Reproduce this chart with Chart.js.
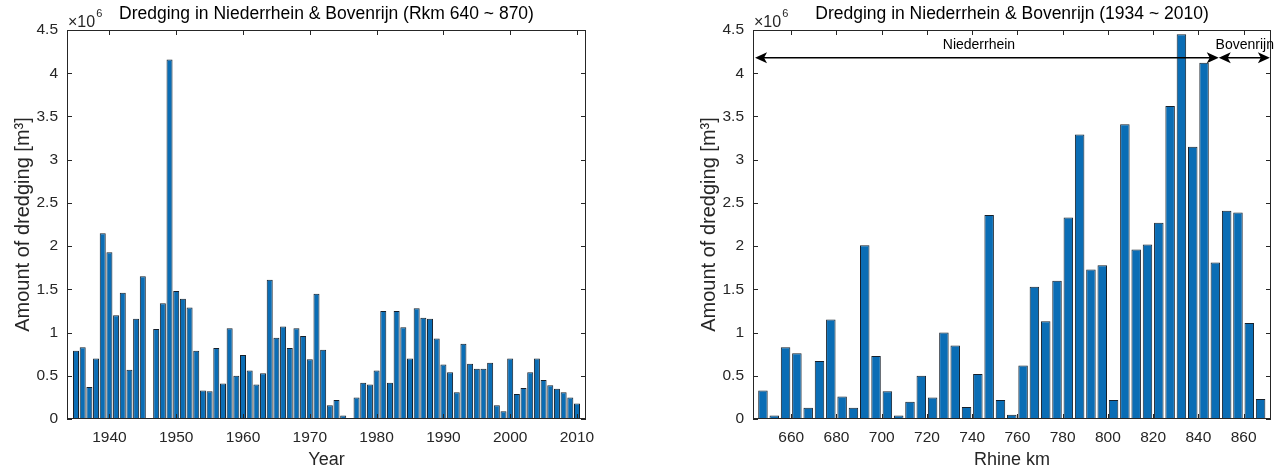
<!DOCTYPE html>
<html>
<head>
<meta charset="utf-8">
<script src="https://cdn.jsdelivr.net/npm/chart.js@4.4.0/dist/chart.umd.min.js"></script>
<style>
  html, body { margin: 0; padding: 0; background: #fff; }
  #wrap { position: relative; width: 1284px; height: 472px; }
  canvas { position: absolute; top: 0; }
  #chartYear { left: 0; }
  #chartKm { left: 642px; }
</style>
</head>
<body>
<div id="wrap">
  <canvas id="chartYear" width="642" height="472"></canvas>
  <canvas id="chartKm" width="642" height="472"></canvas>
</div>
<script>
// values are in million m3 (the axes show them with a x10^6 multiplier)
const years = [
  1935, 1936, 1937, 1938, 1939, 1940, 1941, 1942, 1943, 1944, 1945,
  1947, 1948, 1949, 1950, 1951, 1952, 1953, 1954, 1955, 1956, 1957, 1958, 1959,
  1960, 1961, 1962, 1963, 1964, 1965, 1966, 1967, 1968, 1969,
  1970, 1971, 1972, 1973, 1974, 1975,
  1977, 1978, 1979, 1980, 1981, 1982, 1983, 1984, 1985, 1986, 1987, 1988, 1989,
  1990, 1991, 1992, 1993, 1994, 1995, 1996, 1997, 1998, 1999,
  2000, 2001, 2002, 2003, 2004, 2005, 2006, 2007, 2008, 2009, 2010
];
const dredgingByYear = [
  0.79, 0.83, 0.37, 0.70, 2.15, 1.93, 1.20, 1.46, 0.57, 1.16, 1.65,
  1.04, 1.34, 4.16, 1.48, 1.39, 1.29, 0.79, 0.33, 0.32, 0.82, 0.41, 1.05, 0.50,
  0.74, 0.56, 0.40, 0.53, 1.61, 0.94, 1.07, 0.82, 1.05, 0.96,
  0.69, 1.45, 0.80, 0.16, 0.22, 0.04,
  0.25, 0.42, 0.40, 0.56, 1.25, 0.42, 1.25, 1.06, 0.70, 1.28, 1.17, 1.16, 0.93,
  0.63, 0.54, 0.31, 0.87, 0.64, 0.58, 0.58, 0.65, 0.16, 0.09,
  0.70, 0.29, 0.36, 0.54, 0.70, 0.45, 0.39, 0.35, 0.31, 0.25, 0.18
];

const rhineKm = [
  647.5, 652.5, 657.5, 662.5, 667.5, 672.5, 677.5, 682.5, 687.5, 692.5,
  697.5, 702.5, 707.5, 712.5, 717.5, 722.5, 727.5, 732.5, 737.5, 742.5,
  747.5, 752.5, 757.5, 762.5, 767.5, 772.5, 777.5, 782.5, 787.5, 792.5,
  797.5, 802.5, 807.5, 812.5, 817.5, 822.5, 827.5, 832.5, 837.5, 842.5,
  847.5, 852.5, 857.5, 862.5, 867.5
];
const dredgingByKm = [
  0.33, 0.04, 0.83, 0.76, 0.13, 0.67, 1.15, 0.26, 0.13, 2.01,
  0.73, 0.32, 0.04, 0.20, 0.50, 0.25, 1.00, 0.85, 0.14, 0.52,
  2.36, 0.22, 0.05, 0.62, 1.53, 1.13, 1.60, 2.33, 3.29, 1.73,
  1.78, 0.22, 3.41, 1.96, 2.02, 2.27, 3.62, 4.45, 3.15, 4.12,
  1.81, 2.41, 2.39, 1.11, 0.23
];

// river stretches marked with arrows on the km chart
const regionNames = ["Niederrhein", "Bovenrijn"];
const regionFrom = [644, 849];
const regionTo = [849, 871.6];
const regionLabelKm = [743, 860.5];
const arrowLevel = 4.18;
const labelLevel = 4.32;

const FONT = "'Liberation Sans', Arial, Helvetica, sans-serif";
const INK = "#262626";

// MATLAB style box, inward ticks, title and x10^6 marker
const matlabFrame = {
  id: "matlabFrame",
  afterDraw(chart, args, opts) {
    const { ctx, chartArea: a, scales } = chart;
    ctx.save();
    ctx.strokeStyle = INK;
    ctx.lineWidth = 1;
    ctx.strokeRect(a.left + 0.5, a.top + 0.5, a.right - a.left - 1, a.bottom - a.top - 1);
    ctx.beginPath();
    scales.x.ticks.forEach((t) => {
      const x = Math.round(scales.x.getPixelForValue(t.value)) + 0.5;
      ctx.moveTo(x, a.bottom);
      ctx.lineTo(x, a.bottom - 5);
      ctx.moveTo(x, a.top);
      ctx.lineTo(x, a.top + 5);
    });
    scales.y.ticks.forEach((t) => {
      const y = Math.round(scales.y.getPixelForValue(t.value)) + 0.5;
      ctx.moveTo(a.left, y);
      ctx.lineTo(a.left + 5, y);
      ctx.moveTo(a.right, y);
      ctx.lineTo(a.right - 5, y);
    });
    ctx.stroke();

    ctx.fillStyle = "#000";
    ctx.font = "17.5px " + FONT;
    ctx.textAlign = "center";
    ctx.textBaseline = "middle";
    ctx.fillText(opts.title, (a.left + a.right) / 2, 14);

    ctx.fillStyle = INK;
    ctx.textAlign = "left";
    ctx.textBaseline = "alphabetic";
    ctx.font = "16px " + FONT;
    const base = "\u00d710";
    ctx.fillText(base, a.left + 1, a.top - 3);
    const w = ctx.measureText(base).width;
    ctx.font = "11px " + FONT;
    ctx.fillText("6", a.left + 1 + w + 1, a.top - 13);
    ctx.restore();
  },
};

const arrowHead = (ctx, x, y, dir) => {
  ctx.beginPath();
  ctx.moveTo(x, y);
  ctx.lineTo(x - dir * 12, y - 5.5);
  ctx.lineTo(x - dir * 9, y);
  ctx.lineTo(x - dir * 12, y + 5.5);
  ctx.closePath();
  ctx.fill();
};

const regionArrows = {
  id: "regionArrows",
  afterDraw(chart) {
    const { ctx, scales } = chart;
    const y = scales.y.getPixelForValue(arrowLevel);
    const ly = scales.y.getPixelForValue(labelLevel);
    ctx.save();
    ctx.strokeStyle = "#000";
    ctx.fillStyle = "#000";
    ctx.lineWidth = 1.5;
    regionNames.forEach((name, i) => {
      const x1 = scales.x.getPixelForValue(regionFrom[i]);
      const x2 = scales.x.getPixelForValue(regionTo[i]);
      ctx.beginPath();
      ctx.moveTo(x1 + 6, y);
      ctx.lineTo(x2 - 6, y);
      ctx.stroke();
      arrowHead(ctx, x1, y, -1);
      arrowHead(ctx, x2, y, 1);
      ctx.font = "14px " + FONT;
      ctx.textAlign = "center";
      ctx.textBaseline = "middle";
      ctx.fillText(name, scales.x.getPixelForValue(regionLabelKm[i]), ly);
    });
    ctx.restore();
  },
};

const makeChart = (canvasId, xs, values, cfg) => {
  const ctx = document.getElementById(canvasId).getContext("2d");
  return new Chart(ctx, {
    type: "bar",
    data: {
      datasets: [
        {
          label: cfg.title,
          data: xs.map((x, i) => ({ x: x, y: values[i] })),
          backgroundColor: "#0a6db5",
          borderColor: "#16202b",
          borderWidth: 1,
          barPercentage: cfg.barPercentage,
          categoryPercentage: 1,
        },
      ],
    },
    options: {
      responsive: false,
      animation: false,
      layout: { padding: cfg.padding },
      plugins: {
        legend: { display: false },
        tooltip: { enabled: false },
        title: { display: false },
        matlabFrame: { title: cfg.title },
      },
      scales: {
        x: {
          type: "linear",
          offset: false,
          min: cfg.xMin,
          max: cfg.xMax,
          grid: { display: false, drawTicks: false, offset: false },
          border: { display: false },
          ticks: {
            stepSize: cfg.xStep,
            includeBounds: false,
            padding: 9,
            color: INK,
            font: { family: FONT, size: 15.5 },
            callback: (v) => String(v),
          },
          title: {
            display: true,
            text: cfg.xTitle,
            color: INK,
            font: { family: FONT, size: 18 },
            padding: { top: 0, bottom: 1 },
          },
          afterFit: (scale) => { scale.height = 53; },
        },
        y: {
          min: 0,
          max: 4.5,
          grid: { display: false, drawTicks: false },
          border: { display: false },
          ticks: {
            stepSize: 0.5,
            padding: 9,
            color: INK,
            font: { family: FONT, size: 15.5 },
            callback: (v) => String(v),
          },
          title: {
            display: true,
            text: "Amount of dredging [m\u00b3]",
            color: INK,
            font: { family: FONT, size: 20 },
            padding: { top: 11, bottom: 0 },
          },
          afterFit: (scale) => { scale.width = 67; },
        },
      },
    },
    plugins: cfg.plugins,
  });
};

makeChart("chartYear", years, dredgingByYear, {
  title: "Dredging in Niederrhein & Bovenrijn (Rkm 640 ~ 870)",
  xTitle: "Year",
  xMin: 1933.65,
  xMax: 2011.35,
  xStep: 10,
  barPercentage: 0.9,
  padding: { left: 0, right: 56, top: 30, bottom: 0 },
  plugins: [matlabFrame],
});

makeChart("chartKm", rhineKm, dredgingByKm, {
  title: "Dredging in Niederrhein & Bovenrijn (1934 ~ 2010)",
  xTitle: "Rhine km",
  xMin: 643.1,
  xMax: 872.1,
  xStep: 20,
  barPercentage: 0.84,
  padding: { left: 44, right: 13, top: 30, bottom: 0 },
  plugins: [matlabFrame, regionArrows],
});
</script>
</body>
</html>
